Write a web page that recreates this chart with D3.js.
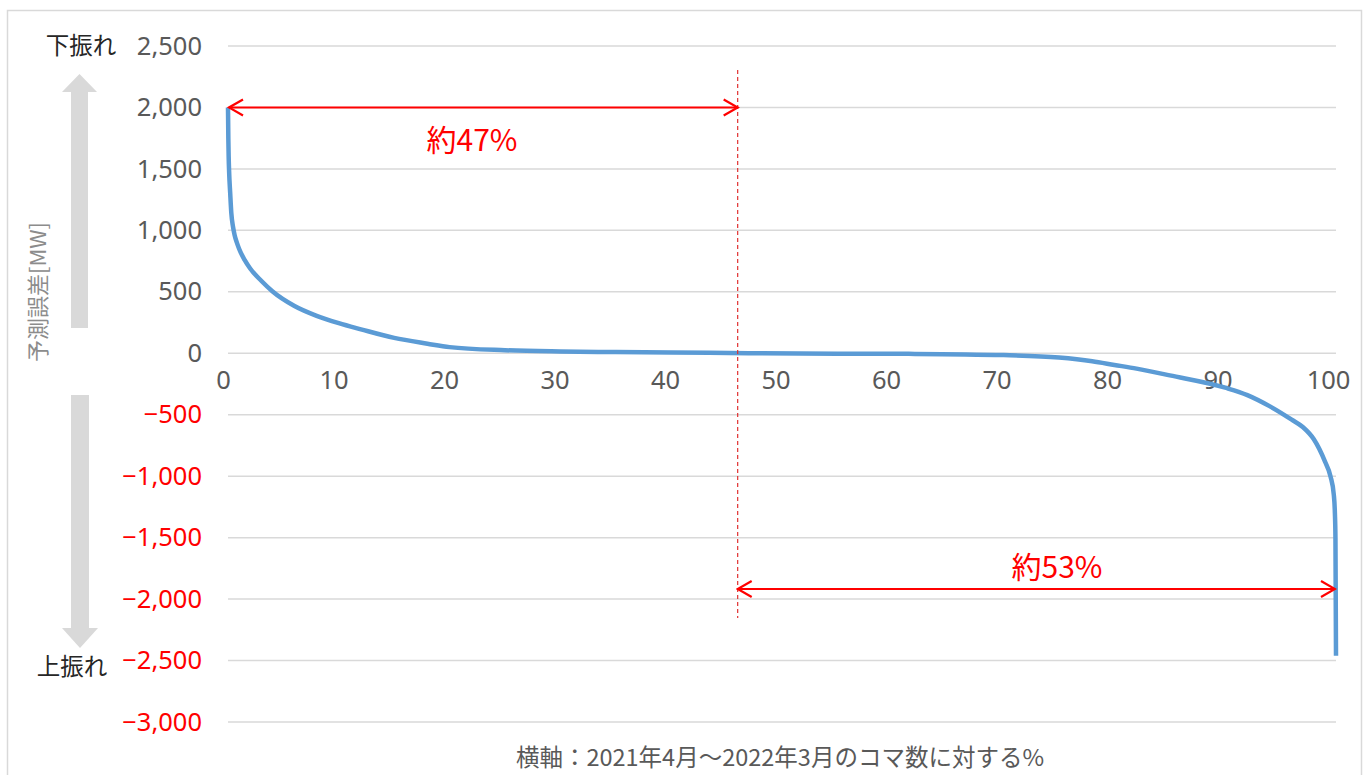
<!DOCTYPE html>
<html><head><meta charset="utf-8">
<script src="https://cdn.jsdelivr.net/npm/d3@7/dist/d3.min.js"></script>
<style>
html,body{margin:0;padding:0;background:#fff;}
svg{display:block;}
</style></head>
<body>
<svg id="chart" width="1365" height="775"></svg>
<script>
// ---- data ----
const pct = [0, 0.03, 0.06, 0.1, 0.2, 0.3, 0.45, 0.6, 0.8, 1, 1.5, 2, 3, 4, 6, 8, 10, 12, 15, 18, 20, 25, 30, 35, 40, 47, 55, 62, 70, 75, 78, 80, 82, 85, 90, 92, 94, 96, 97, 98, 99, 99.5, 99.8, 99.9, 99.95, 100];
const errMW = [2000, 1750, 1600, 1480, 1300, 1140, 1030, 960, 900, 850, 760, 690, 590, 505, 385, 305, 245, 195, 125, 78, 50, 25, 15, 10, 7, 0, -3, -5, -15, -35, -65, -95, -125, -180, -280, -340, -430, -540, -600, -700, -880, -1000, -1150, -1300, -1500, -2460];
const yTicks = [2500, 2000, 1500, 1000, 500, 0, -500, -1000, -1500, -2000, -2500, -3000];
const xTicks = [0, 10, 20, 30, 40, 50, 60, 70, 80, 90, 100];
const splitPct = 46;
const labelLeft = "約47%";
const labelRight = "約53%";
const yTitle = "予測誤差[MW]";
const xTitle = "横軸：2021年4月～2022年3月のコマ数に対する%";
const upLabel = "下振れ";
const downLabel = "上振れ";

const svg = d3.select("#chart");
const numFont = "'Noto Sans', 'Open Sans', sans-serif";
const jpFont = "'Noto Sans CJK JP', 'Noto Sans', sans-serif";

const x = d3.scaleLinear().domain([0, 100]).range([228, 1336]);
const xLab = x.copy().range([223, 1328]);
const y = d3.scaleLinear().domain([2500, -3000]).range([46, 722]);

// outer border
svg.append("rect").attr("x", 7.5).attr("y", 10.5).attr("width", 1354).attr("height", 800)
  .attr("fill", "none").attr("stroke", "#d9d9d9").attr("stroke-width", 1.5);

// gridlines
svg.append("g").selectAll("line").data(yTicks).join("line")
  .attr("x1", x(0)).attr("x2", x(100))
  .attr("y1", d => y(d)).attr("y2", d => y(d))
  .attr("stroke", "#d9d9d9").attr("stroke-width", 1.5);

// y axis labels
const yAxis = d3.axisLeft(y).tickValues(yTicks).tickSize(0).tickPadding(0)
  .tickFormat(d3.format(","));
const gy = svg.append("g").attr("transform", "translate(202,0)").call(yAxis);
gy.select(".domain").remove();
gy.selectAll("text").attr("font-family", numFont).attr("font-size", 25.5)
  .attr("fill", d => d < 0 ? "#ff0000" : "#595959");

// x axis labels
const xAxis = d3.axisBottom(xLab).tickValues(xTicks).tickSize(0).tickPadding(0);
const gx = svg.append("g").attr("transform", `translate(0,${y(0) + 18})`).call(xAxis);
gx.select(".domain").remove();
gx.selectAll("text").attr("font-family", numFont).attr("font-size", 25.5).attr("fill", "#595959");

// curve
const line = d3.line().x((d, i) => x(pct[i])).y((d, i) => y(errMW[i])).curve(d3.curveMonotoneX);
svg.append("path").datum(errMW).attr("d", line)
  .attr("fill", "none").attr("stroke", "#5b9bd5").attr("stroke-width", 4.5)
  .attr("stroke-linejoin", "round");

// markers
const defs = svg.append("defs");
defs.append("marker").attr("id", "chev").attr("markerUnits", "userSpaceOnUse")
  .attr("viewBox", "-16 -10 18 20").attr("refX", 0).attr("refY", 0)
  .attr("markerWidth", 18).attr("markerHeight", 20).attr("orient", "auto-start-reverse")
  .append("path").attr("d", "M-14,-8 L0,0 L-14,8").attr("fill", "none")
  .attr("stroke", "#ff0000").attr("stroke-width", 2.2);

// dashed split line
svg.append("line").attr("x1", x(splitPct)).attr("x2", x(splitPct))
  .attr("y1", 70).attr("y2", 618)
  .attr("stroke", "#e03030").attr("stroke-width", 1.2).attr("stroke-dasharray", "4,3");

// double arrows
svg.append("line").attr("x1", x(0) + 1).attr("x2", x(splitPct))
  .attr("y1", y(2000)).attr("y2", y(2000))
  .attr("stroke", "#ff0000").attr("stroke-width", 2)
  .attr("marker-start", "url(#chev)").attr("marker-end", "url(#chev)");
svg.append("line").attr("x1", x(splitPct)).attr("x2", x(100) - 1)
  .attr("y1", 589).attr("y2", 589)
  .attr("stroke", "#ff0000").attr("stroke-width", 2)
  .attr("marker-start", "url(#chev)").attr("marker-end", "url(#chev)");

svg.append("text").attr("x", 472).attr("y", 151).attr("text-anchor", "middle")
  .attr("font-family", jpFont).attr("font-size", 30).attr("fill", "#ff0000").text(labelLeft);
svg.append("text").attr("x", 1057).attr("y", 578).attr("text-anchor", "middle")
  .attr("font-family", jpFont).attr("font-size", 30).attr("fill", "#ff0000").text(labelRight);

// gray arrows
const gray = "#d9d9d9";
svg.append("path").attr("d", "M71,328 L71,92 L62,92 L79.5,74 L97,92 L88,92 L88,328 Z").attr("fill", gray);
svg.append("path").attr("d", "M71,395 L71,628 L62,628 L80,648 L98,628 L89,628 L89,395 Z").attr("fill", gray);

svg.append("text").attr("x", 81).attr("y", 54).attr("text-anchor", "middle")
  .attr("font-family", jpFont).attr("font-size", 23.5).attr("fill", "#262626").text(upLabel);
svg.append("text").attr("x", 72).attr("y", 675).attr("text-anchor", "middle")
  .attr("font-family", jpFont).attr("font-size", 23.5).attr("fill", "#262626").text(downLabel);

// axis titles
svg.append("text").attr("transform", "translate(46,292) rotate(-90)").attr("text-anchor", "middle")
  .attr("font-family", jpFont).attr("font-size", 22).attr("fill", "#8c8c8c").text(yTitle);
svg.append("text").attr("x", 780).attr("y", 766).attr("text-anchor", "middle")
  .attr("font-family", jpFont).attr("font-size", 23.5).attr("fill", "#595959").text(xTitle);
</script>
</body></html>
